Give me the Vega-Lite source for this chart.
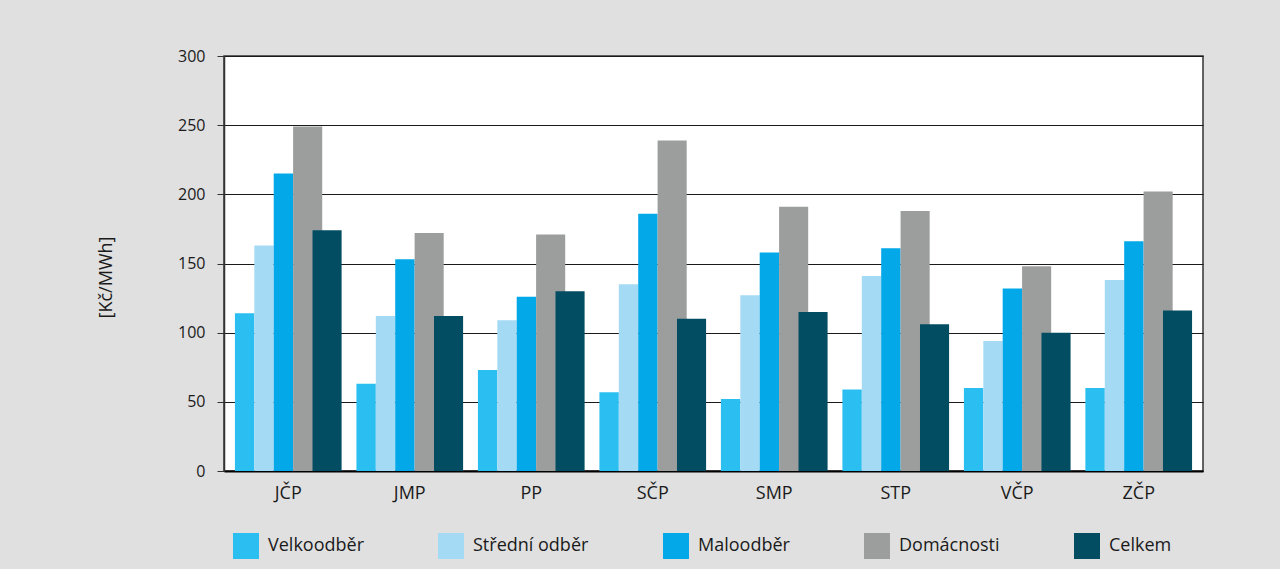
{
  "$schema": "https://vega.github.io/schema/vega-lite/v6.json",
  "width": 979,
  "height": 415,
  "autosize": {"type": "none"},
  "padding": {"left": 224, "top": 56, "right": 77, "bottom": 98},
  "background": "#e0e0e0",
  "config": {
    "font": "Open Sans",
    "view": {"fill": "white", "stroke": "#333333", "strokeWidth": 1.5}
  },
  "data": {
    "values": [
      {"region": "JČP", "type": "Velkoodběr", "value": 114},
      {"region": "JČP", "type": "Střední odběr", "value": 163},
      {"region": "JČP", "type": "Maloodběr", "value": 215},
      {"region": "JČP", "type": "Domácnosti", "value": 249},
      {"region": "JČP", "type": "Celkem", "value": 174},
      {"region": "JMP", "type": "Velkoodběr", "value": 63},
      {"region": "JMP", "type": "Střední odběr", "value": 112},
      {"region": "JMP", "type": "Maloodběr", "value": 153},
      {"region": "JMP", "type": "Domácnosti", "value": 172},
      {"region": "JMP", "type": "Celkem", "value": 112},
      {"region": "PP", "type": "Velkoodběr", "value": 73},
      {"region": "PP", "type": "Střední odběr", "value": 109},
      {"region": "PP", "type": "Maloodběr", "value": 126},
      {"region": "PP", "type": "Domácnosti", "value": 171},
      {"region": "PP", "type": "Celkem", "value": 130},
      {"region": "SČP", "type": "Velkoodběr", "value": 57},
      {"region": "SČP", "type": "Střední odběr", "value": 135},
      {"region": "SČP", "type": "Maloodběr", "value": 186},
      {"region": "SČP", "type": "Domácnosti", "value": 239},
      {"region": "SČP", "type": "Celkem", "value": 110},
      {"region": "SMP", "type": "Velkoodběr", "value": 52},
      {"region": "SMP", "type": "Střední odběr", "value": 127},
      {"region": "SMP", "type": "Maloodběr", "value": 158},
      {"region": "SMP", "type": "Domácnosti", "value": 191},
      {"region": "SMP", "type": "Celkem", "value": 115},
      {"region": "STP", "type": "Velkoodběr", "value": 59},
      {"region": "STP", "type": "Střední odběr", "value": 141},
      {"region": "STP", "type": "Maloodběr", "value": 161},
      {"region": "STP", "type": "Domácnosti", "value": 188},
      {"region": "STP", "type": "Celkem", "value": 106},
      {"region": "VČP", "type": "Velkoodběr", "value": 60},
      {"region": "VČP", "type": "Střední odběr", "value": 94},
      {"region": "VČP", "type": "Maloodběr", "value": 132},
      {"region": "VČP", "type": "Domácnosti", "value": 148},
      {"region": "VČP", "type": "Celkem", "value": 100},
      {"region": "ZČP", "type": "Velkoodběr", "value": 60},
      {"region": "ZČP", "type": "Střední odběr", "value": 138},
      {"region": "ZČP", "type": "Maloodběr", "value": 166},
      {"region": "ZČP", "type": "Domácnosti", "value": 202},
      {"region": "ZČP", "type": "Celkem", "value": 116}
    ]
  },
  "encoding": {
    "x": {
      "field": "region",
      "type": "nominal",
      "sort": ["JČP", "JMP", "PP", "SČP", "SMP", "STP", "VČP", "ZČP"],
      "scale": {"paddingInner": 0.122, "paddingOuter": 0.09},
      "axis": {
        "title": null,
        "labelAngle": 0,
        "ticks": false,
        "labelPadding": 13,
        "labelFontSize": 18,
        "labelColor": "#1a1a1a",
        "domainColor": "#000000",
        "domainWidth": 2
      }
    },
    "y": {
      "field": "value",
      "type": "quantitative",
      "scale": {"domain": [0, 300]},
      "axis": {
        "title": "[Kč/MWh]",
        "titleFontSize": 18,
        "titleFontWeight": "normal",
        "titleColor": "#1a1a1a",
        "titlePadding": 62,
        "titleY": 221,
        "values": [0, 50, 100, 150, 200, 250, 300],
        "labelFontSize": 16,
        "labelColor": "#1a1a1a",
        "labelPadding": 12,
        "tickSize": 7,
        "tickColor": "#333333",
        "domainColor": "#333333",
        "domainWidth": 1.5,
        "gridColor": "#1a1a1a",
        "gridWidth": 1
      }
    },
    "color": {
      "field": "type",
      "type": "nominal",
      "scale": {
        "domain": ["Velkoodběr", "Střední odběr", "Maloodběr", "Domácnosti", "Celkem"],
        "range": ["#2ABFF0", "#A5DAF5", "#02A8E8", "#9C9E9E", "#034D63"]
      },
      "legend": {
        "title": null,
        "orient": "bottom",
        "direction": "horizontal",
        "columns": 5,
        "offset": 22,
        "padding": 9,
        "symbolType": "square",
        "symbolSize": 676,
        "symbolStrokeWidth": 0,
        "symbolOpacity": 1,
        "labelFontSize": 18,
        "labelColor": "#1a1a1a",
        "labelOffset": 9,
        "labelLimit": 300,
        "columnPadding": 74
      }
    }
  },
  "layer": [
    {
      "transform": [{"filter": {"field": "type", "oneOf": ["Velkoodběr", "Střední odběr", "Maloodběr"]}}],
      "mark": {"type": "bar"},
      "encoding": {
        "xOffset": {
          "field": "type",
          "type": "nominal",
          "scale": {"domain": ["Velkoodběr", "Střední odběr", "Maloodběr", "_p1", "_p2"], "paddingInner": 0, "paddingOuter": 0.25, "align": 0}
        }
      }
    },
    {
      "transform": [{"filter": {"field": "type", "equal": "Domácnosti"}}],
      "mark": {"type": "bar"},
      "encoding": {
        "xOffset": {
          "field": "type",
          "type": "nominal",
          "scale": {"domain": ["_q1", "_q2", "Domácnosti"], "paddingInner": 0, "paddingOuter": 0.33333, "align": 0}
        }
      }
    },
    {
      "transform": [{"filter": {"field": "type", "equal": "Celkem"}}],
      "mark": {"type": "bar"},
      "encoding": {
        "xOffset": {
          "field": "type",
          "type": "nominal",
          "scale": {"domain": ["_r1", "Celkem"], "paddingInner": 0, "paddingOuter": 0.83333, "align": 1}
        }
      }
    }
  ],
  "resolve": {"scale": {"xOffset": "independent"}}
}
